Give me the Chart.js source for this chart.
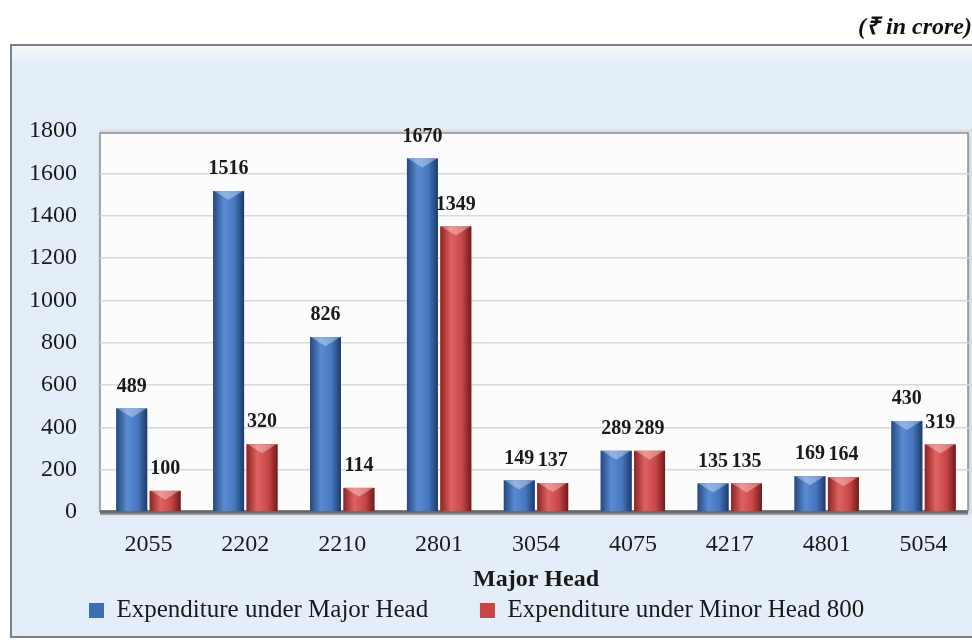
<!DOCTYPE html>
<html>
<head>
<meta charset="utf-8">
<script src="https://cdn.jsdelivr.net/npm/chart.js@4.4.0/dist/chart.umd.min.js"></script>
<style>
  html, body { margin: 0; padding: 0; background: #fff; }
  #wrap { width: 972px; height: 641px; }
</style>
</head>
<body>
<div id="wrap"><canvas id="chart" width="972" height="641"></canvas></div>
<script>
const heads = ['2055', '2202', '2210', '2801', '3054', '4075', '4217', '4801', '5054'];
const majorHead = [489, 1516, 826, 1670, 149, 289, 135, 169, 430];
const minorHead800 = [100, 320, 114, 1349, 137, 289, 135, 164, 319];
const yMax = 1800;
const yStep = 200;

const SERIF = "'Liberation Serif', 'Times New Roman', serif";

// bar shading: dark edges, lighter middle
const shades = [
    ['#24497f', '#5a8bd2', '#4576bf', '#1d3a68'],
    ['#8c2424', '#df6262', '#c94646', '#6f1b1b']
];

// panel, white wall and floor behind the plot
const panelPlugin = {
    id: 'panel',
    beforeDraw(chart) {
        const { ctx, chartArea: a } = chart;
        ctx.save();
        ctx.fillStyle = '#e4eef8';
        ctx.fillRect(10, 44, 972, 594);
        let g = ctx.createLinearGradient(0, 46, 0, 62);
        g.addColorStop(0, '#f5f8fc');
        g.addColorStop(1, '#e4eef8');
        ctx.fillStyle = g;
        ctx.fillRect(12, 46, 960, 16);
        ctx.strokeStyle = '#7d828a';
        ctx.lineWidth = 2;
        ctx.strokeRect(11, 45, 980, 592);

        // plot wall
        const right = 968;
        ctx.shadowColor = 'rgba(0,0,0,0.25)';
        ctx.shadowBlur = 4;
        ctx.shadowOffsetX = 1;
        ctx.shadowOffsetY = 1;
        ctx.fillStyle = '#fcfcfc';
        ctx.fillRect(a.left, a.top + 2, right - a.left, a.bottom - a.top - 2);
        ctx.shadowColor = 'transparent';
        ctx.strokeStyle = '#8e8e8e';
        ctx.lineWidth = 1.5;
        ctx.beginPath();
        ctx.moveTo(a.left, a.bottom);
        ctx.lineTo(a.left, a.top + 2);
        ctx.lineTo(right, a.top + 2);
        ctx.lineTo(right, a.bottom);
        ctx.stroke();
        ctx.restore();
    },
    beforeDatasetsDraw(chart) {
        const { ctx, chartArea: a } = chart;
        ctx.save();
        let g = ctx.createLinearGradient(0, a.bottom - 3, 0, a.bottom + 3);
        g.addColorStop(0, '#9a9a9a');
        g.addColorStop(0.5, '#5e5e5e');
        g.addColorStop(1, '#b0b0b0');
        ctx.fillStyle = g;
        ctx.fillRect(a.left, a.bottom - 2, 968 - a.left, 5);
        ctx.restore();
    }
};

// shaded bars with a light chevron on top, plus value labels
const barLookPlugin = {
    id: 'barLook',
    afterDatasetsDraw(chart) {
        const ctx = chart.ctx;
        ctx.save();
        chart.data.datasets.forEach((ds, di) => {
            const meta = chart.getDatasetMeta(di);
            const c = shades[di];
            meta.data.forEach((bar, i) => {
                const left = bar.x - bar.width / 2;
                const right = bar.x + bar.width / 2;
                const top = bar.y;
                const h = bar.base - bar.y;
                let g = ctx.createLinearGradient(left, 0, right, 0);
                g.addColorStop(0, c[0]);
                g.addColorStop(0.35, c[1]);
                g.addColorStop(0.7, c[2]);
                g.addColorStop(1, c[3]);
                ctx.fillStyle = g;
                ctx.fillRect(left, top, bar.width, h);
                // top chevron
                ctx.fillStyle = 'rgba(255,255,255,0.35)';
                ctx.beginPath();
                ctx.moveTo(left + 1, top);
                ctx.lineTo(right - 1, top);
                ctx.lineTo(bar.x, top + Math.min(9, h));
                ctx.closePath();
                ctx.fill();

                ctx.fillStyle = '#1a1a1a';
                ctx.font = 'bold 20px ' + SERIF;
                ctx.textAlign = 'center';
                ctx.textBaseline = 'bottom';
                ctx.fillText(ds.data[i], bar.x, top - 12);
            });
        });
        ctx.restore();
    }
};

new Chart(document.getElementById('chart').getContext('2d'), {
    type: 'bar',
    data: {
        labels: heads,
        datasets: [
            {
                label: 'Expenditure under Major Head',
                data: majorHead,
                backgroundColor: '#3d6db5',
                borderColor: '#1d3a68',
                borderWidth: 0
            },
            {
                label: 'Expenditure under Minor Head 800',
                data: minorHead800,
                backgroundColor: '#c94646',
                borderColor: '#6f1b1b',
                borderWidth: 0
            }
        ]
    },
    options: {
        responsive: false,
        animation: false,
        devicePixelRatio: 1,
        categoryPercentage: 0.69,
        barPercentage: 0.925,
        layout: { padding: { left: 0, right: 0, top: 0, bottom: 8 } },
        plugins: {
            title: {
                display: true,
                text: '(\u20B9 in crore)',
                align: 'end',
                color: '#111',
                font: { family: SERIF, size: 24, weight: 'bold', style: 'italic', lineHeight: 1 },
                padding: { top: 16, bottom: 91 }
            },
            legend: {
                position: 'bottom',
                labels: {
                    color: '#1a1a1a',
                    font: { family: SERIF, size: 25, lineHeight: 1 },
                    boxWidth: 15,
                    boxHeight: 15,
                    padding: 8,
                    // wider gap between the two items, row nudged left
                    generateLabels(chart) {
                        const items = Chart.defaults.plugins.legend.labels.generateLabels(chart);
                        items[0].text += '       ';
                        items[items.length - 1].text += '   ';
                        return items;
                    }
                }
            },
            tooltip: { enabled: false }
        },
        scales: {
            x: {
                grid: { display: false, drawTicks: false },
                border: { display: false },
                ticks: {
                    color: '#1a1a1a',
                    font: { family: SERIF, size: 24, lineHeight: 1 },
                    padding: 21
                },
                title: {
                    display: true,
                    text: 'Major Head',
                    color: '#1a1a1a',
                    font: { family: SERIF, size: 24, weight: 'bold', lineHeight: 1 },
                    padding: { top: -10, bottom: -2 }
                }
            },
            y: {
                min: 0,
                max: yMax,
                afterFit(scale) { scale.width = 100; },
                grid: { color: '#d9d9d9', lineWidth: 1.5, drawTicks: false },
                border: { display: false },
                ticks: {
                    stepSize: yStep,
                    color: '#1a1a1a',
                    font: { family: SERIF, size: 24 },
                    padding: 23,
                    callback: v => String(v)
                }
            }
        }
    },
    plugins: [panelPlugin, barLookPlugin]
});
</script>
</body>
</html>
